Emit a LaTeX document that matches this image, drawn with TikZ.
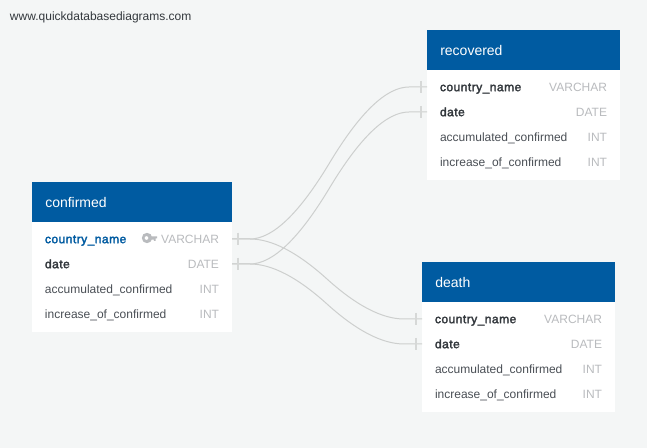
\documentclass[tikz,border=0pt]{standalone}
\usepackage{fontspec}
\setmainfont{Liberation Sans}
\newfontfamily\medfont[FakeBold=2.5,LetterSpace=4]{Liberation Sans}
\usetikzlibrary{calc}
\definecolor{bgc}{HTML}{F4F6F6}
\definecolor{headc}{HTML}{005BA1}
\definecolor{txtc}{HTML}{4A4F55}
\definecolor{darkc}{HTML}{33383D}
\definecolor{typec}{HTML}{B9BBBE}
\definecolor{linec}{HTML}{CDCFCE}
\definecolor{barc}{HTML}{D6D8D7}
\tikzset{
  x=0.75pt,y=-0.75pt,
  tablebody/.style={fill=white,draw=none,inner sep=0,outer sep=0,minimum height=112.5pt,anchor=north west},
  tablehead/.style={fill=headc,draw=none,inner sep=0,outer sep=0,minimum height=30pt,anchor=north west},
  fname/.style={anchor=base west,inner sep=0,outer sep=0,text=txtc,font=\fontsize{9}{11}\selectfont},
  fpk/.style={fname,text=headc,font=\fontsize{9}{11}\medfont},
  fkey/.style={fname,text=darkc,font=\fontsize{9}{11}\medfont},
  ftype/.style={anchor=base east,inner sep=0,outer sep=0,text=typec,font=\fontsize{9}{11}\selectfont},
  rel/.style={draw=linec,line width=0.75pt},
  relbar/.style={draw=barc,line width=1.1pt},
  water/.style={anchor=base west,inner sep=0,outer sep=0,text=darkc,font=\fontsize{9}{11}\selectfont}
}
% #1 node prefix, #2 left px, #3 top px, #4 width px, #5 title
\newcommand{\erbox}[5]{%
  \node[tablebody,minimum width=#4*0.75pt] (#1b) at (#2,#3) {};
  \node[tablehead,minimum width=#4*0.75pt] (#1h) at (#2,#3) {};
  \node[anchor=base west,inner sep=0,text=white,font=\fontsize{10.5}{12}\selectfont] (#1t) at (#2+13,#3+25.6) {#5};
  \node[fname] (#1c) at (#2+13,#3+112) {accumulated\_confirmed};
  \node[fname] (#1d) at (#2+13,#3+137) {increase\_of\_confirmed};
  \node[ftype] (#1e) at (#2+#4-13,#3+112) {INT};
  \node[ftype] (#1f) at (#2+#4-13,#3+137) {INT};
  \node[ftype] (#1g) at (#2+#4-13,#3+62) {VARCHAR};
  \node[ftype] (#1i) at (#2+#4-13,#3+87) {DATE};
  \coordinate (#1p) at (#2,#3+57);
  \coordinate (#1q) at (#2,#3+82);
  \coordinate (#1r) at (#2+#4,#3+57);
  \coordinate (#1s) at (#2+#4,#3+82);
}
% #1 source coordinate, #2 target coordinate: two mirrored arcs meeting mid-way
\newcommand{\rel}[2]{%
  \coordinate (rS) at ($(#1)+(18,0)$);
  \coordinate (rE) at ($(#2)+(-18,0)$);
  \coordinate (rM) at ($(rS)!0.5!(rE)$);
  \coordinate (rA) at ($(rS)!0.283!(rM)$);
  \coordinate (rB) at ($(rS)!0.617!(rM)$);
  \coordinate (rB2) at ($(rS)!0.333!(rM)$);
  \coordinate (rC) at ($(rE)!0.283!(rM)$);
  \coordinate (rD) at ($(rE)!0.617!(rM)$);
  \coordinate (rD2) at ($(rE)!0.333!(rM)$);
  \draw[rel] (#1) -- (rS) .. controls (rA |- rS) and (rB |- rB2) .. (rM)
     .. controls (rD |- rD2) and (rC |- rE) .. (rE) -- (#2);
  \draw[relbar] ($(#1)+(6,-6)$) -- ($(#1)+(6,6)$);
  \draw[relbar] ($(#2)+(-6,-6)$) -- ($(#2)+(-6,6)$);
}
\begin{document}
\begin{tikzpicture}
\useasboundingbox (0,0) rectangle (647,448);
\fill[bgc] (0,0) rectangle (647,448);
\node[water] (wm) at (10,21) {www.quickdatabasediagrams.com};
\erbox{a}{32}{182}{200}{confirmed}
\erbox{b}{427}{30}{193}{recovered}
\erbox{c}{422}{262}{193}{death}
\node[fpk] (a1) at (45,243.2) {country\_name};
\node[fkey] (a2) at (45,268.2) {date};
\node[fkey] (b1) at (440,91.2) {country\_name};
\node[fkey] (b2) at (440,116.2) {date};
\node[fkey] (c1) at (435,323.2) {country\_name};
\node[fkey] (c2) at (435,348.2) {date};
% key icon
\fill[typec,even odd rule] (147,238) circle[radius=5.2] (146.5,238) circle[radius=2];
\fill[typec] (151,236.3) -- (157,236.3) -- (157,238.5) -- (155.6,238.5) -- (155.6,240.8) -- (153.8,240.8) -- (153.8,239.6) -- (151,239.6) -- cycle;
% relations
\rel{ar}{bp}
\rel{as}{bq}
\rel{ar}{cp}
\rel{as}{cq}
\end{tikzpicture}
\end{document}
